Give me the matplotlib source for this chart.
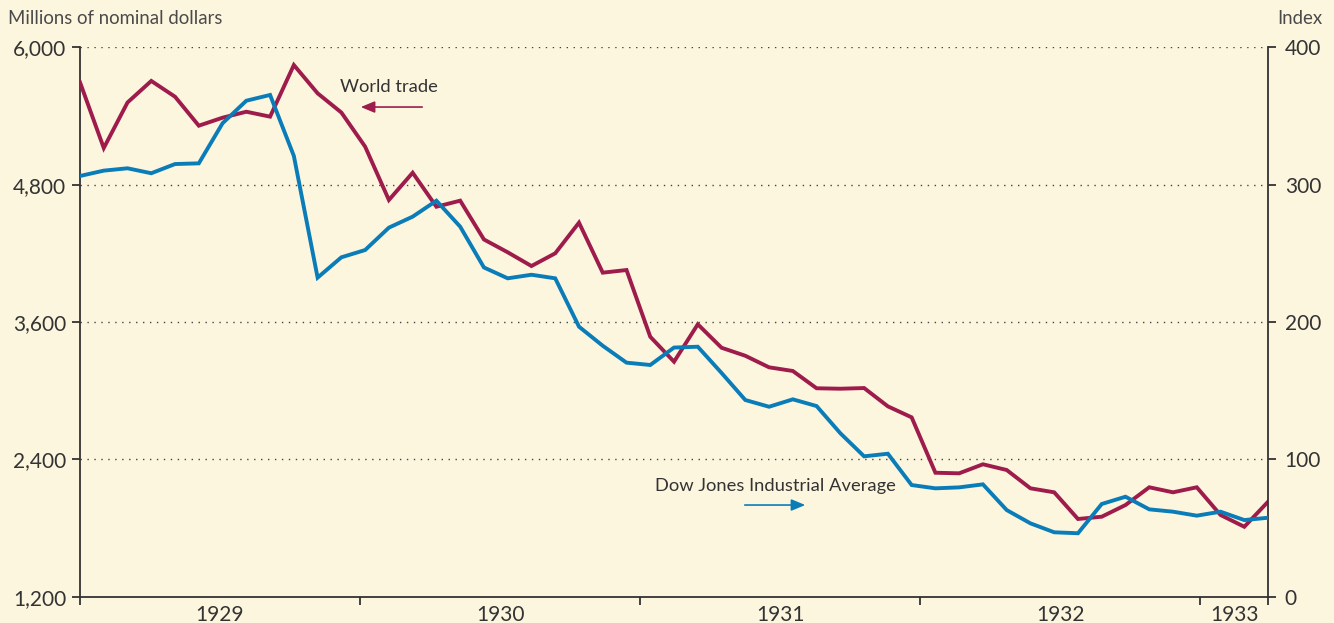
import matplotlib
matplotlib.use("Agg")
import matplotlib.pyplot as plt
import numpy as np

# monthly points, Jan 1929 .. Mar 1933 (51 points)
world_trade = [5694, 5120, 5518, 5706, 5568, 5315, 5385, 5437, 5394, 5845,
               5598, 5430, 5132, 4666, 4904, 4607, 4660, 4321, 4209, 4089,
               4200, 4468, 4031, 4054, 3471, 3253, 3580, 3375, 3305, 3204,
               3172, 3021, 3017, 3023, 2863, 2767, 2283, 2278, 2357, 2307,
               2147, 2112, 1879, 1899, 2001, 2156, 2112, 2156, 1914, 1811,
               2030]
dow_jones = [306.3, 310.2, 311.9, 308.3, 315.0, 315.5, 344.7, 361.1, 365.3, 320.9,
             232.3, 247.1, 252.4, 268.7, 276.7, 288.3, 269.4, 239.7, 231.8, 234.4,
             231.8, 196.6, 182.7, 170.4, 168.7, 181.4, 182.0, 162.9, 143.2, 138.3,
             143.7, 138.8, 119.0, 102.2, 104.1, 81.3, 78.9, 79.6, 81.8, 63.1,
             53.4, 46.9, 46.2, 67.5, 72.8, 63.6, 61.9, 59.0, 61.9, 55.8,
             57.5]
years = ["1929", "1930", "1931", "1932", "1933"]
left_ticks = [1200, 2400, 3600, 4800, 6000]
right_ticks = [0, 100, 200, 300, 400]

bg = "#fdf6df"
red = "#9e1c4c"
blue = "#0a7db9"
ink = "#333333"

plt.rcParams["font.family"] = ["Lato", "DejaVu Sans"]

x = np.arange(len(world_trade))
year_len = 11.785                      # axis spacing of the year ticks
edges = [0] + [year_len * k for k in range(1, 5)] + [x[-1]]
mids = [(edges[k] + edges[k + 1]) / 2 for k in range(5)]

fig = plt.figure(figsize=(13.34, 6.23), dpi=100, facecolor=bg)
ax = fig.add_axes([0.05997, 0.0422, 0.8906, 0.8819])
ax.set_facecolor(bg)
ax2 = ax.twinx()
ax2.patch.set_visible(False)

ax.plot(x, world_trade, color=red, lw=2.8, solid_joinstyle="miter", zorder=3)
ax2.plot(x, dow_jones, color=blue, lw=2.8, solid_joinstyle="miter", zorder=3)

ax.set_xlim(0, x[-1])
ax.set_ylim(1200, 6000)
ax2.set_ylim(0, 400)

# dotted gridlines
for v in left_ticks[1:]:
    ax.axhline(v, color="#444444", lw=1.0, ls=(0, (1, 4)), zorder=1)

ax.set_yticks(left_ticks)
ax.set_yticklabels([f"{v:,}" for v in left_ticks])
ax2.set_yticks(right_ticks)
ax2.set_yticklabels([str(v) for v in right_ticks])

ax.set_xticks(edges)
ax.set_xticklabels([])
ax.set_xticks(mids, minor=True)
ax.set_xticklabels(years, minor=True)

ax.tick_params(axis="y", length=6, width=1.3, color=ink, labelcolor=ink,
               labelsize=15, pad=4)
ax2.tick_params(axis="y", length=6, width=1.3, color=ink, labelcolor=ink,
                labelsize=15, pad=6)
ax.tick_params(axis="x", which="major", length=6, width=1.3, color=ink)
ax.tick_params(axis="x", which="minor", length=0, labelsize=15,
               labelcolor=ink, pad=6)

for s in ["top", "right"]:
    ax.spines[s].set_visible(False)
for s in ["top", "left", "bottom"]:
    ax2.spines[s].set_visible(False)
for sp in [ax.spines["left"], ax.spines["bottom"], ax2.spines["right"]]:
    sp.set_color(ink)
    sp.set_linewidth(1.3)

# axis titles
fig.text(8 / 1334, 1 - 19 / 623, "Millions of nominal dollars", fontsize=13.4,
         color="#4a4a4a", ha="left", va="center")
fig.text(1322 / 1334, 1 - 19 / 623, "Index", fontsize=13.4,
         color="#4a4a4a", ha="right", va="center")

# series labels with arrows
ax.text(13.0, 5653, "World trade", fontsize=13.2, color=ink, ha="center", va="center")
ax.annotate("", xy=(11.7, 5478), xytext=(14.52, 5478),
            arrowprops=dict(arrowstyle="-|>,head_length=0.6,head_width=0.25",
                            color=red, lw=1.2, mutation_scale=14))
ax.text(29.25, 2167, "Dow Jones Industrial Average", fontsize=13.2, color=ink,
        ha="center", va="center")
ax.annotate("", xy=(30.64, 2001), xytext=(27.86, 2001),
            arrowprops=dict(arrowstyle="-|>,head_length=0.6,head_width=0.25",
                            color=blue, lw=1.2, mutation_scale=14))

fig.savefig("out.png", dpi=100, facecolor=bg)
